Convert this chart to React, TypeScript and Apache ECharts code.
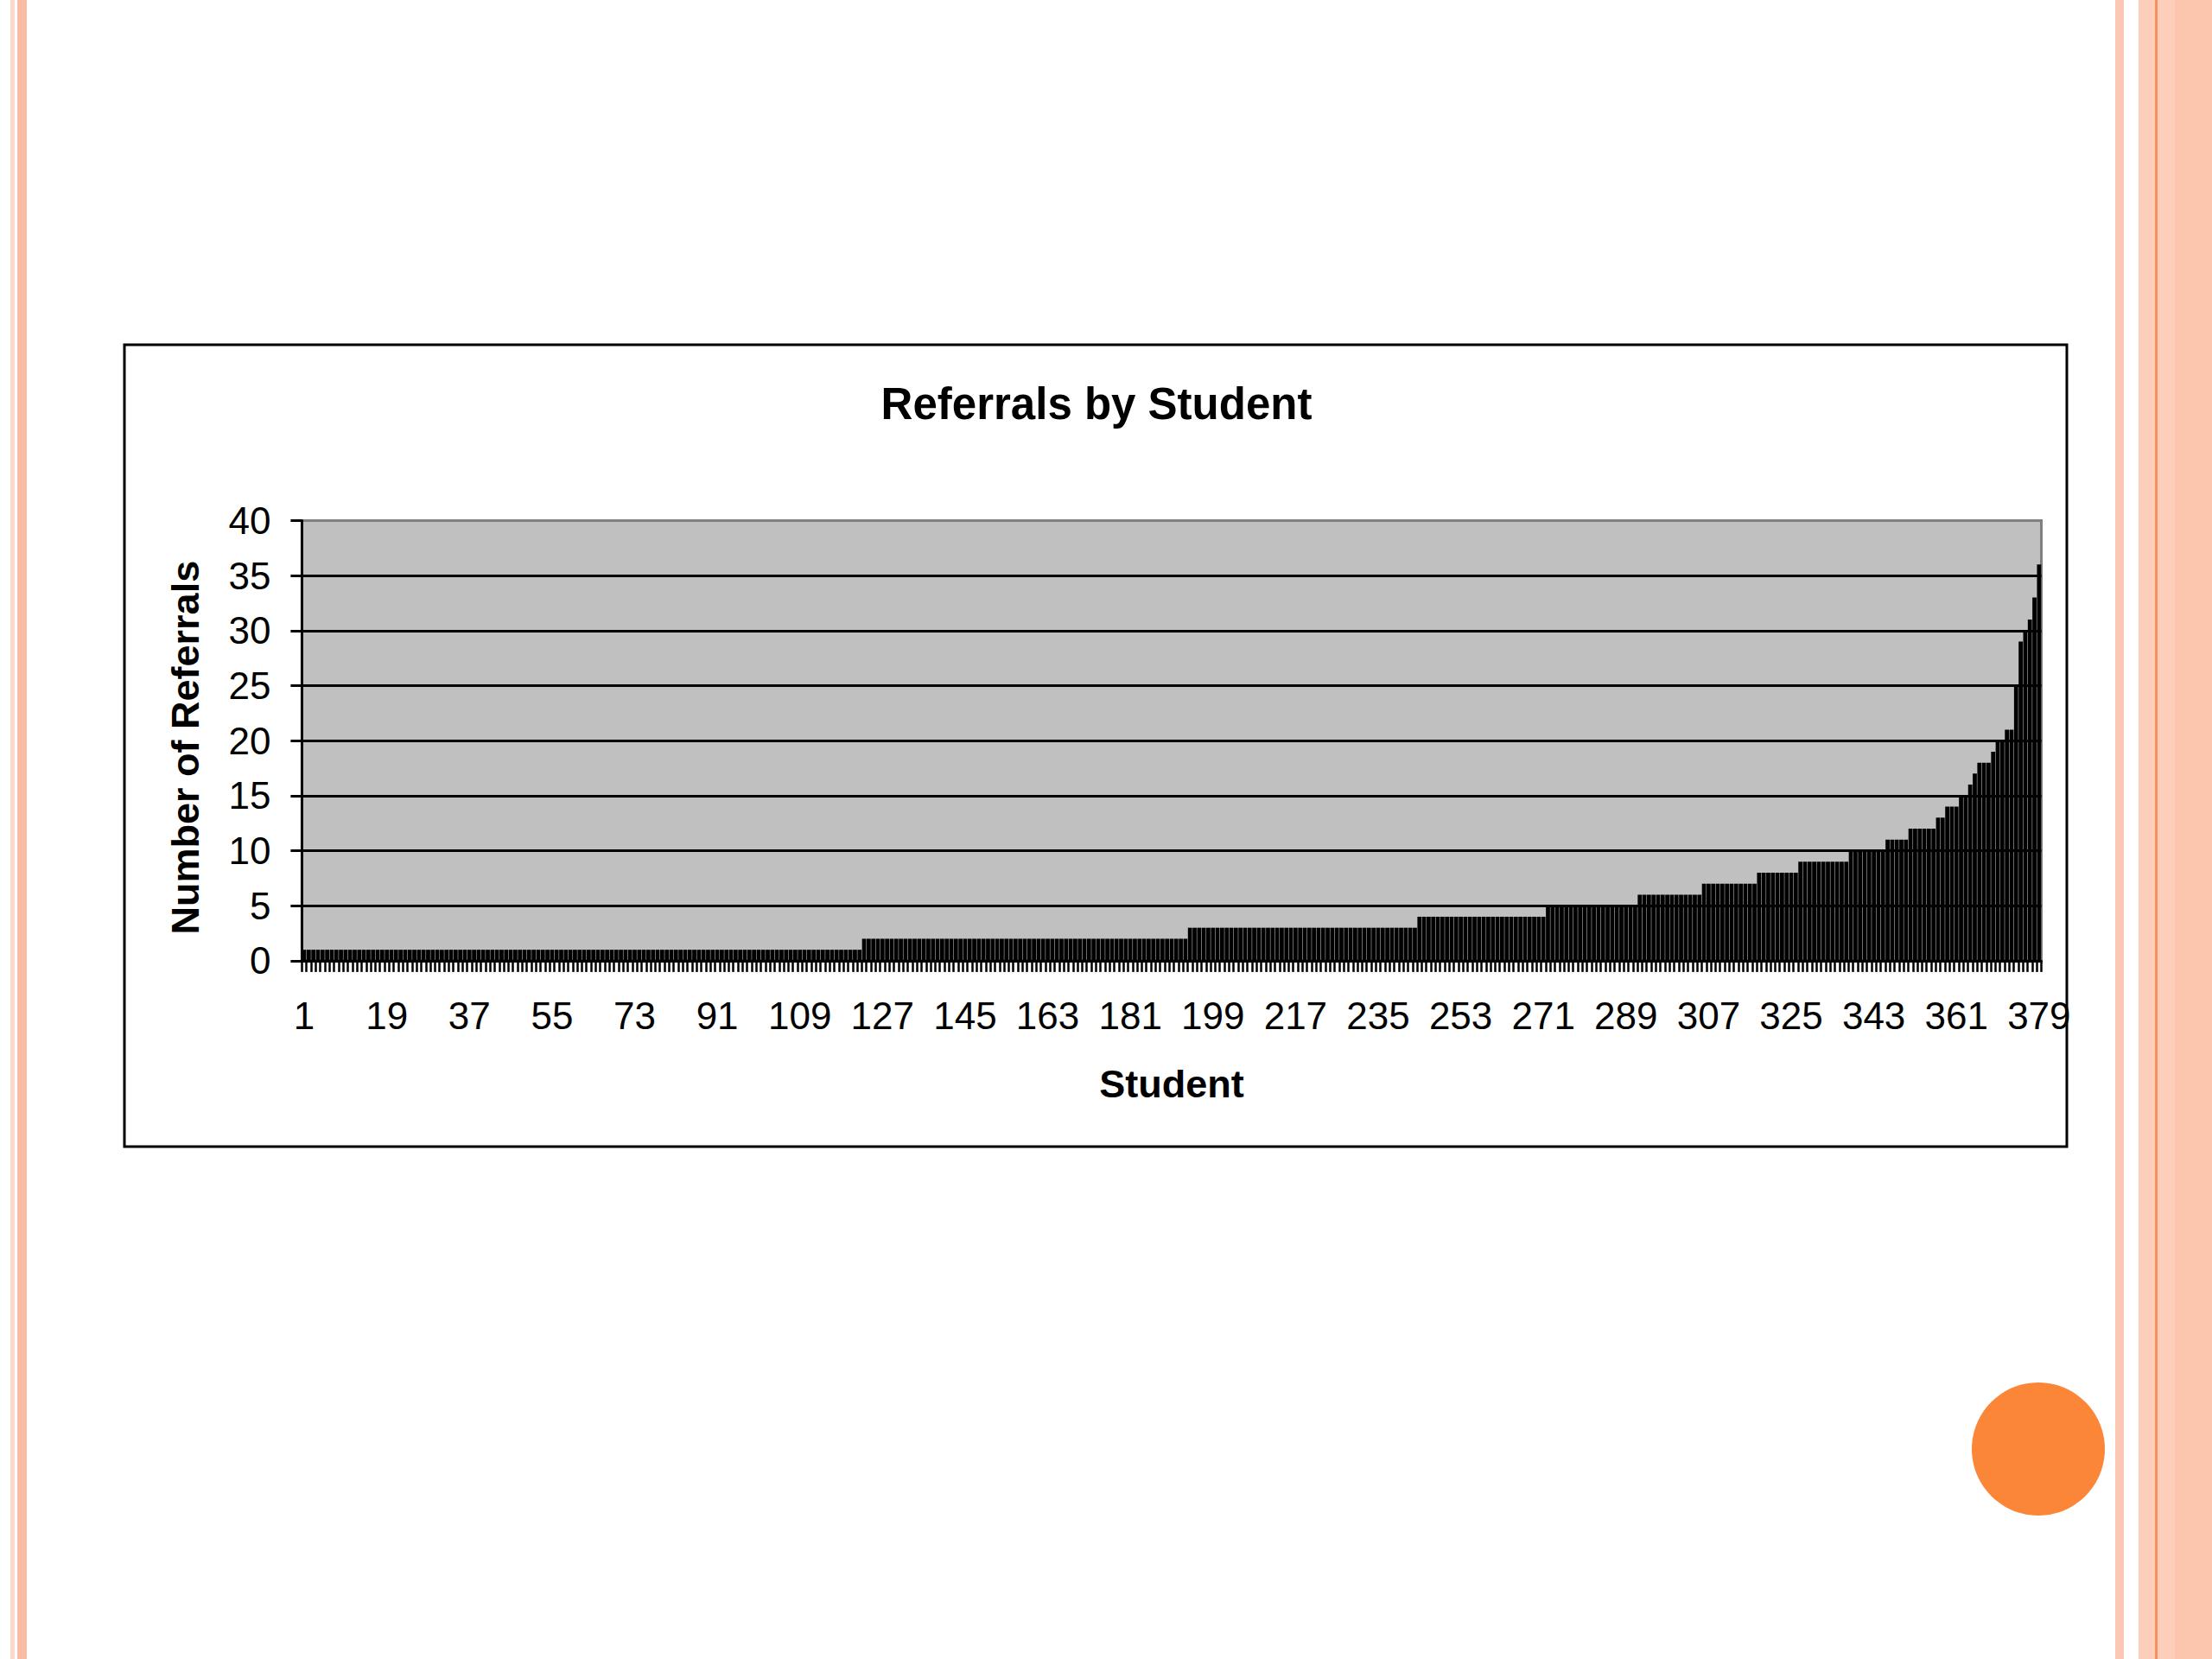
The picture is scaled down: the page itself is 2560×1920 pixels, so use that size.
import React, { useEffect, useRef } from "react";
import * as echarts from "echarts";

// ---- Data ----
const chartTitle = "Referrals by Student";
const xAxisTitle = "Student";
const yAxisTitle = "Number of Referrals";

// Number of referrals (sorted ascending) and how many students have each value
const referralLevels = [1, 2, 3, 4, 5, 6, 7, 8, 9, 10, 11, 12, 13, 14, 15, 16, 17, 18, 19, 20, 21, 25, 29, 30, 31, 33, 36];
const studentsPerLevel = [122, 71, 50, 28, 20, 14, 12, 9, 11, 8, 5, 6, 2, 3, 2, 1, 1, 3, 1, 2, 2, 1, 1, 1, 1, 1, 1];

const yMin = 0;
const yMax = 40;
const yInterval = 5;
const xLabelEvery = 18;

const referrals: number[] = referralLevels.flatMap((v, i) => Array(studentsPerLevel[i]).fill(v));
const students: string[] = referrals.map((_, i) => String(i + 1));

const FONT = "'Liberation Sans', Arial, Helvetica, sans-serif";

export default function App() {
  const ref = useRef<HTMLDivElement>(null);

  useEffect(() => {
    if (!ref.current) return;
    const chart = echarts.init(ref.current, undefined, { renderer: "svg" });

    const splitColors = [] as string[];
    for (let v = yMin; v <= yMax; v += yInterval) splitColors.push(v === yMax ? "#808080" : "#000000");

    chart.setOption({
      animation: false,
      backgroundColor: "#ffffff",
      textStyle: { fontFamily: FONT },
      grid: {
        left: 349.4,
        top: 602.4,
        width: 2013.1,
        height: 509.5,
        show: true,
        backgroundColor: "#C0C0C0",
        borderColor: "#808080",
        borderWidth: 3,
        containLabel: false,
      },
      xAxis: {
        type: "category",
        data: students,
        boundaryGap: true,
        name: xAxisTitle,
        nameLocation: "middle",
        nameGap: 143,
        nameTextStyle: {
          fontFamily: FONT,
          fontSize: 45,
          fontWeight: "bold",
          color: "#000",
          verticalAlign: "middle",
        },
        axisLine: { show: true, lineStyle: { color: "#000", width: 3 } },
        axisTick: { show: true, interval: 0, length: 13, lineStyle: { color: "#000", width: 2.5 } },
        axisLabel: {
          interval: xLabelEvery - 1,
          fontSize: 44,
          fontFamily: FONT,
          color: "#000",
          margin: 42,
        },
        splitLine: { show: false },
      },
      yAxis: {
        type: "value",
        min: yMin,
        max: yMax,
        interval: yInterval,
        name: yAxisTitle,
        nameLocation: "middle",
        nameGap: 135,
        nameRotate: 90,
        nameTextStyle: {
          fontFamily: FONT,
          fontSize: 45,
          fontWeight: "bold",
          color: "#000",
          verticalAlign: "middle",
          padding: [0, 16, 0, 0],
        },
        axisLine: { show: true, lineStyle: { color: "#000", width: 3 } },
        axisTick: { show: true, length: 13, lineStyle: { color: "#000", width: 3 } },
        axisLabel: { fontSize: 44, fontFamily: FONT, color: "#000", margin: 36 },
        splitLine: { show: true, lineStyle: { color: splitColors, width: 3 } },
      },
      series: [
        {
          type: "bar",
          data: referrals,
          barCategoryGap: "10%",
          itemStyle: { color: "#000000" },
          emphasis: { disabled: true },
        },
      ],
      graphic: [
        // left slide decoration
        { type: "rect", shape: { x: 12, y: 0, width: 5, height: 1920 }, style: { fill: "#FDD8CB" }, silent: true },
        { type: "rect", shape: { x: 20, y: 0, width: 11, height: 1920 }, style: { fill: "#FBBCA6" }, silent: true },
        // right slide decoration
        { type: "rect", shape: { x: 2448, y: 0, width: 10, height: 1920 }, style: { fill: "#FCC7B4" }, silent: true },
        { type: "rect", shape: { x: 2475, y: 0, width: 85, height: 1920 }, style: { fill: "#FDCEB9" }, silent: true },
        { type: "rect", shape: { x: 2517, y: 0, width: 43, height: 1920 }, style: { fill: "#FCC6AE" }, silent: true },
        { type: "rect", shape: { x: 2494, y: 0, width: 3, height: 1920 }, style: { fill: "#F58F5C" }, silent: true },
        // orange dot
        { type: "circle", shape: { cx: 2359, cy: 1677, r: 77 }, style: { fill: "#FC8638" }, silent: true },
        // chart frame
        {
          type: "rect",
          shape: { x: 144, y: 399, width: 2248, height: 928 },
          style: { fill: "none", stroke: "#000", lineWidth: 3 },
          silent: true,
        },
        // chart title
        {
          type: "text",
          x: 1269,
          y: 467,
          style: {
            text: chartTitle,
            fill: "#000",
            font: `bold 51px ${FONT}`,
            textAlign: "center",
            textVerticalAlign: "middle",
          },
          silent: true,
        },
      ],
    });

    return () => chart.dispose();
  }, []);

  return (
    <div
      ref={ref}
      style={{ position: "absolute", left: 0, top: 0, width: 2560, height: 1920, background: "#fff" }}
    />
  );
}
